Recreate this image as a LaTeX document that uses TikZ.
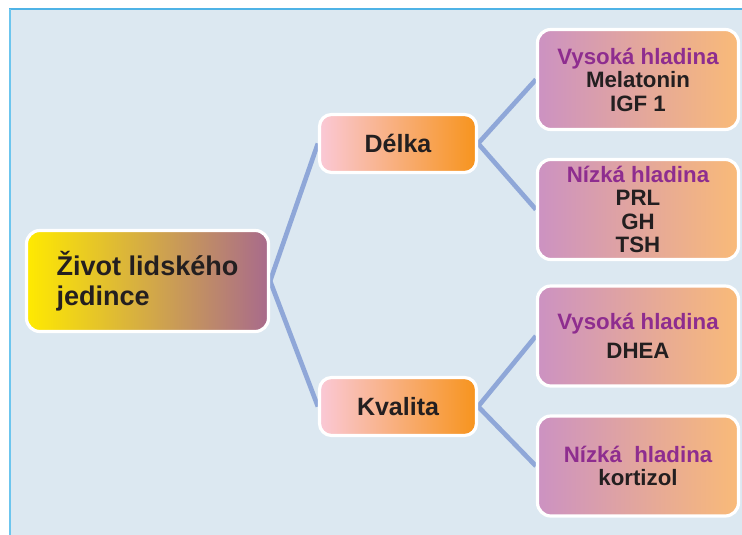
\documentclass[tikz,border=0pt]{standalone}
\usepackage{fontspec}
\setmainfont{Liberation Sans}
\definecolor{panel}{HTML}{DCE8F1}
\definecolor{panelline}{HTML}{4FB3E6}
\definecolor{panelleft}{HTML}{6CC5EE}
\definecolor{link}{HTML}{8FA7D8}
\definecolor{ink}{HTML}{231F20}
\definecolor{plum}{HTML}{8E2D8F}
\definecolor{rootL}{HTML}{FFEA00}
\definecolor{rootM}{HTML}{D6AA78}
\definecolor{rootR}{HTML}{A86A8C}
\definecolor{midL}{HTML}{FAC8D6}
\definecolor{midR}{HTML}{F7941D}
\definecolor{leafL}{HTML}{CC92C2}
\definecolor{leafR}{HTML}{F9BA78}
\pgfdeclarelayer{bg}
\pgfdeclarelayer{lines}
\pgfsetlayers{bg,lines,main}
\tikzset{
  card/.style={draw=white, line width=2.4pt, text=ink, font=\bfseries},
  rootbox/.style={card, rounded corners=10pt, minimum width=181.5pt, minimum height=75.75pt,
    left color=rootL, middle color=rootM, right color=rootR, align=left,
    font=\bfseries\fontsize{20.3pt}{22.5pt}\selectfont},
  midbox/.style={card, rounded corners=9pt, minimum width=117.75pt, minimum height=43.5pt,
    left color=midL, right color=midR,
    font=\bfseries\fontsize{18.75pt}{22pt}\selectfont},
  leafbox/.style={card, rounded corners=10pt, minimum width=150.75pt, minimum height=75pt,
    left color=leafL, right color=leafR, align=center,
    font=\bfseries\fontsize{16.7pt}{17.6pt}\selectfont},
  link/.style={draw=link, line width=3.5pt},
}
\begin{document}
\begin{tikzpicture}[x=0.75pt, y=-0.75pt]
\useasboundingbox (0,0) rectangle (742,535);

% tree nodes
\node[rootbox] (root) at (147.5,281) {Život lidského\\jedince};
\node[midbox] (delka) at (398,143.5) {Délka};
\node[midbox] (kvalita) at (398,406.5) {Kvalita};
\node[leafbox] (d1) at (638,79.5) {{\color{plum}Vysoká hladina}\\Melatonin\\IGF 1};
\node[leafbox] (d2) at (638,209.5) {{\color{plum}Nízká hladina}\\PRL\\GH\\TSH};
\node[leafbox] (k1) at (638,336) {{\color{plum}Vysoká hladina}\\[4pt]DHEA};
\node[leafbox] (k2) at (638,466) {{\color{plum}Nízká\ \ hladina}\\kortizol};

% connectors behind the boxes
\begin{pgfonlayer}{lines}
  \draw[link] (root.east) -- (delka.west);
  \draw[link] (root.east) -- (kvalita.west);
  \draw[link] (delka.east) -- (d1.west);
  \draw[link] (delka.east) -- (d2.west);
  \draw[link] (kvalita.east) -- (k1.west);
  \draw[link] (kvalita.east) -- (k2.west);
\end{pgfonlayer}

% framed panel
\begin{pgfonlayer}{bg}
  \fill[white] (0,0) rectangle (742,535);
  \fill[panel] (9,9) rectangle (742,535);
  \draw[panelline, line width=1.2pt] (9,9) -- (742,9);
  \draw[panelleft, line width=1.5pt] (9.5,9) -- (9.5,535);
\end{pgfonlayer}
\end{tikzpicture}
\end{document}
